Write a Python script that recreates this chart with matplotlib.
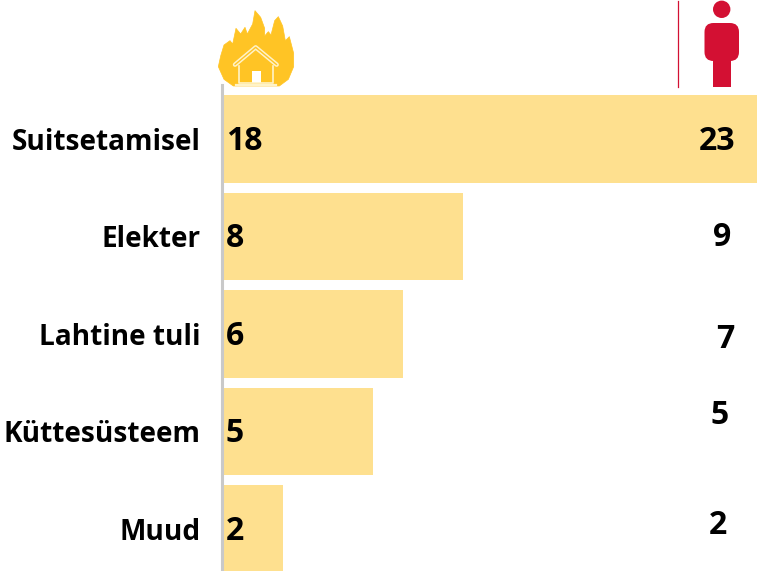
import matplotlib
matplotlib.use("Agg")
import matplotlib.pyplot as plt
from matplotlib.patches import Polygon, Circle, FancyBboxPatch, Rectangle

W, H = 757, 571

categories = ["Suitsetamisel", "Elekter", "Lahtine tuli", "Küttesüsteem", "Muud"]
fires = [18, 8, 6, 5, 2]
deaths = [23, 9, 7, 5, 2]

# the death numbers do not sit in line with the bars in the original
deaths_x = [717, 722, 725, 720, 718]
deaths_y = [137, 233, 335, 412, 522]

BAR = "#FEE08F"
YELLOW = "#FFC425"
RED = "#D31033"
GREY = "#C9C9C9"

plt.rcParams["font.family"] = ["Open Sans", "DejaVu Sans"]
plt.rcParams["font.weight"] = "bold"

fig = plt.figure(figsize=(W / 100, H / 100), dpi=100)

# bars: 30 px per fire, 97.5 px per row, cut by the right and bottom edge
left, top = 223, 85
ax = fig.add_axes([left / W, 0, (W - left) / W, (H - top) / H])
ax.barh(range(len(fires)), fires, height=0.9, color=BAR)
ax.set_xlim(0, (W - left) / 30)
ax.set_ylim((H - 139) / 97.5, (top - 139) / 97.5)
for s in ["top", "right", "bottom"]:
    ax.spines[s].set_visible(False)
ax.spines["left"].set_color(GREY)
ax.spines["left"].set_linewidth(2.2)
ax.spines["left"].set_position(("outward", 1))
ax.set_xticks([])
ax.set_yticks(range(len(categories)))
ax.set_yticklabels(categories, fontsize=20.2, fontweight="bold", color="black")
ax.tick_params(axis="y", length=0, pad=15)
for i, v in enumerate(fires):
    ax.text(0.1, i - 0.02, str(v), fontsize=23, fontweight="bold", va="center_baseline", ha="left")

# overlay in pixels for the icons and the loose numbers
ov = fig.add_axes([0, 0, 1, 1], facecolor="none")
ov.set_xlim(0, W)
ov.set_ylim(H, 0)
ov.axis("off")

for d, x, y in zip(deaths, deaths_x, deaths_y):
    ov.text(x, y, str(d), fontsize=23, fontweight="bold", ha="center", va="center_baseline")


def zf(pts):
    # outline read from the 3x zoom of the flame crop
    return [(200 + a / 3, b / 3) for a, b in pts]


flame = [(100, 258), (72, 238), (55, 200), (62, 168), (72, 135), (90, 122), (98, 132),
         (108, 85), (122, 102), (135, 82), (142, 102), (158, 72), (165, 32), (182, 52),
         (194, 85), (194, 108), (205, 95), (213, 105), (224, 62), (235, 50), (248, 78),
         (256, 122), (268, 110), (281, 160), (281, 200), (265, 238), (238, 258)]
ov.add_patch(Polygon(zf(flame), closed=True, fc=YELLOW, ec=YELLOW, lw=0.5, joinstyle="round"))

roof = [(105, 194), (167, 142), (230, 194)]
ov.plot(*zip(*zf(roof)), color="#FFF3C8", lw=3.2, solid_capstyle="round")
ov.plot(*zip(*zf(roof)), color=YELLOW, lw=1.0, solid_capstyle="round")
walls = [(118, 197), (118, 250), (218, 250), (218, 197)]
ov.plot(*zip(*zf(walls)), color="#FFF3C8", lw=1.2)
ov.plot(*zip(*zf([(108, 256), (228, 256)])), color="#FFF3C8", lw=1.6)
ov.add_patch(Polygon(zf([(155, 212), (182, 212), (182, 250), (155, 250)]), fc="white", ec="none"))

# person
ov.plot([678.3, 678.3], [1, 87], color=RED, lw=0.9)
ov.add_patch(Circle((721.7, 9.3), 8.7, fc=RED, ec="none"))
ov.add_patch(FancyBboxPatch((704.5, 23), 34.5, 38, boxstyle="round,pad=0,rounding_size=9",
                            fc=RED, ec="none"))
ov.add_patch(Rectangle((713, 58), 17.5, 29, fc=RED, ec="none"))

fig.savefig("out.png", dpi=100)
